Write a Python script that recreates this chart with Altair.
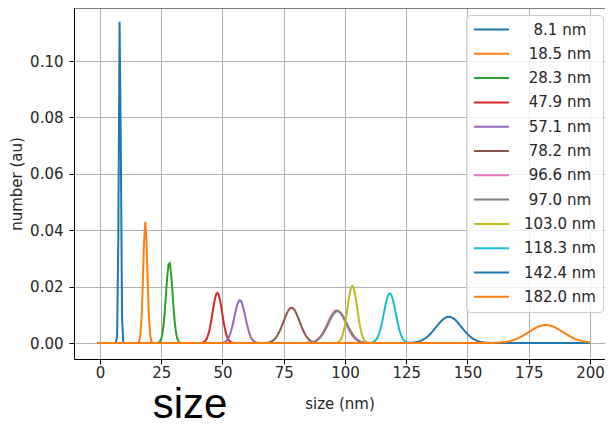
import altair as alt
import numpy as np
import pandas as pd

# Legend labels (matplotlib "%5.1f nm" style; leading spaces kept as no-break spaces,
# protected from trimming by a zero-width space)
ZW = "\u200b"
labels = [ZW + "\u00a0\u00a08.1 nm", ZW + "\u00a018.5 nm", ZW + "\u00a028.3 nm", ZW + "\u00a047.9 nm",
          ZW + "\u00a057.1 nm", ZW + "\u00a078.2 nm", ZW + "\u00a096.6 nm", ZW + "\u00a097.0 nm",
          "103.0 nm", "118.3 nm", "142.4 nm", "182.0 nm"]
# peak centre (nm), peak height (au) and peak width (nm)
centers = [8.1, 18.5, 28.3, 47.9, 57.1, 78.2, 96.6, 97.0, 103.0, 118.3, 142.4, 182.0]
peaks = [0.1175, 0.043, 0.0286, 0.0178, 0.0152, 0.0125, 0.0116, 0.0113, 0.0203, 0.0176, 0.0093, 0.0064]
widths = [0.4, 0.85, 1.35, 1.95, 2.25, 3.3, 3.7, 3.8, 2.0, 2.4, 5.2, 7.0]
colors = ["#1f77b4", "#ff7f0e", "#2ca02c", "#d62728", "#9467bd", "#8c564b",
          "#e377c2", "#7f7f7f", "#bcbd22", "#17becf", "#1f77b4", "#ff7f0e"]
size_grid = np.arange(-1.0, 200.01, 0.5)
x_ticks = [0, 25, 50, 75, 100, 125, 150, 175, 200]
y_ticks = [0.0, 0.02, 0.04, 0.06, 0.08, 0.10]

rows = []
for i, (lab, c, p, w) in enumerate(zip(labels, centers, peaks, widths)):
    y = p * np.exp(-0.5 * ((size_grid - c) / w) ** 2)
    for xv, yv in zip(size_grid, y):
        rows.append({"size": float(xv), "number": float(yv), "series": lab, "k": i})
df = pd.DataFrame(rows)

FONT = "DejaVu Sans"
TXT = "#262626"
W, H = 531, 351

lines = alt.Chart(df).mark_line(strokeWidth=2, clip=True).encode(
    x=alt.X("size:Q", title="size (nm)",
            scale=alt.Scale(domain=[-10.6, 206.14], nice=False, zero=False),
            axis=alt.Axis(values=x_ticks, format="d")),
    y=alt.Y("number:Q", title="number (au)",
            scale=alt.Scale(domain=[-0.00567, 0.1188], nice=False, zero=False),
            axis=alt.Axis(values=y_ticks, format=".2f")),
    color=alt.Color("series:N", sort=labels,
                    scale=alt.Scale(domain=labels, range=colors),
                    legend=alt.Legend(title=None, orient="none", legendX=392, legendY=7,
                                      symbolType="stroke", symbolSize=1225,
                                      symbolStrokeWidth=2, clipHeight=15,
                                      labelFontSize=15, labelFont=FONT, labelColor=TXT,
                                      labelOffset=14, rowPadding=8.3, padding=7,
                                      fillColor="rgba(255,255,255,0.8)",
                                      strokeColor="#cccccc", cornerRadius=4)),
    order=alt.Order("size:Q"),
    detail="k:N",
)

# top spine of the axes frame
top_spine = alt.Chart(pd.DataFrame({"s": [0]})).mark_rule(color="black", strokeWidth=1).encode(
    x=alt.value(0), x2=alt.value(W), y=alt.value(0)
)

note = alt.Chart(pd.DataFrame({"t": ["size"]})).mark_text(
    font="Liberation Sans", fontSize=42, color="black",
    align="center", baseline="alphabetic"
).encode(text="t:N", x=alt.value(116), y=alt.value(410))

chart = alt.layer(lines, top_spine, note).properties(
    width=W, height=H,
    padding={"left": 66, "top": 0, "right": 0, "bottom": 60},
    autosize=alt.AutoSizeParams(type="none"),
    background="white",
).configure_view(
    stroke=None
).configure_axis(
    labelFont=FONT, labelFontSize=15, labelColor=TXT,
    titleFont=FONT, titleFontSize=15, titleFontWeight="normal", titleColor=TXT,
    tickColor="black", tickSize=5, tickWidth=1,
    domainColor="black", domainWidth=1,
    grid=True, gridColor="#b0b0b0", gridWidth=1,
).configure_axisX(
    labelPadding=1, titlePadding=16,
).configure_axisY(
    labelPadding=6, titlePadding=5,
)

chart.save("out.html", embed_options={"renderer": "svg", "actions": False})
